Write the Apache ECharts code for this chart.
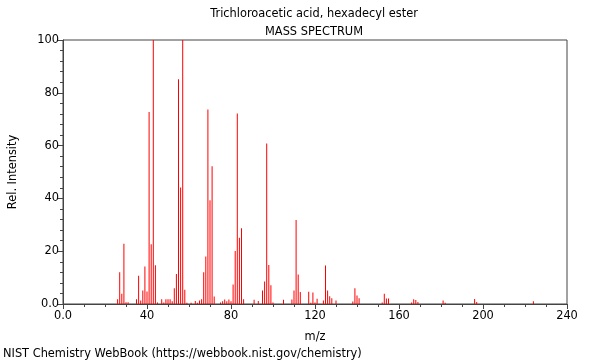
<!DOCTYPE html>
<html>
<head>
<meta charset="utf-8">
<script src="https://cdn.jsdelivr.net/npm/echarts@6/dist/echarts.min.js"></script>
<style>
html,body{margin:0;padding:0;background:#fff;}
#c{width:600px;height:360px;}
</style>
</head>
<body>
<div id="c"></div>
<script>
var titleText = "Trichloroacetic acid, hexadecyl ester";
var subtitleText = "MASS SPECTRUM";
var footerText = "NIST Chemistry WebBook (https://webbook.nist.gov/chemistry)";
var xName = "m/z";
var yName = "Rel. Intensity";

var mz = [26,27,28,29,30,31,35,36,37,38,39,40,41,42,43,44,45,47,48,49,50,51,52,53,54,55,56,57,58,59,61,63,64,65,66,67,68,69,70,71,72,75,76,77,78,79,80,81,82,83,84,85,86,91,93,95,96,97,98,99,100,105,109,110,111,112,113,117,118,119,120,121,124,125,126,127,128,130,138,139,140,141,152,153,154,155,166,167,168,169,181,182,196,197,224];
var intensity = [1.8,12.0,3.9,22.8,0.7,0.7,1.8,10.7,1.3,5.1,14.2,4.7,72.7,22.6,100,14.7,0.6,1.8,0.6,1.8,1.8,1.8,1.0,6.0,11.4,85.1,44.1,100,5.4,0.5,0.5,1.1,0.5,1.3,1.8,12.0,18.0,73.7,39.3,52.2,2.8,0.6,1.0,1.7,1.0,1.7,1.0,7.4,20.1,72.2,25.1,28.7,1.8,1.6,1.1,5.1,8.5,60.8,14.8,7.1,0.6,1.6,1.7,5.1,31.8,11.2,4.5,4.6,0.5,4.4,0.6,2.0,1.3,14.6,5.1,2.9,2.2,1.3,0.9,6.0,3.2,2.2,0.6,3.9,2.1,2.1,0.6,1.8,1.5,0.8,1.3,0.5,1.9,0.8,1.0];

var data = mz.map(function(m,i){return [m,intensity[i]];});
var fontFam = "DejaVu Sans";

var chart = echarts.init(document.getElementById('c'), null, {renderer:'canvas'});
chart.setOption({
  animation:false,
  backgroundColor:'#ffffff',
  textStyle:{fontFamily:fontFam},
  title:[
    {text:titleText, left:314, top:9, textAlign:'center', padding:0,
     textStyle:{fontFamily:fontFam,fontSize:11.4,fontWeight:'normal',color:'#000'}},
    {text:subtitleText, left:314, top:27, textAlign:'center', padding:0,
     textStyle:{fontFamily:fontFam,fontSize:11.4,fontWeight:'normal',color:'#000'}},
    {text:footerText, left:3, top:349, padding:0,
     textStyle:{fontFamily:fontFam,fontSize:11.4,fontWeight:'normal',color:'#000'}}
  ],
  grid:{left:62,right:33,top:40,bottom:56,show:true,borderColor:'#444',borderWidth:1,backgroundColor:'transparent'},
  xAxis:{
    type:'value',min:0,max:240,interval:40,
    name:xName,nameLocation:'middle',nameGap:28,
    nameTextStyle:{fontFamily:fontFam,fontSize:11.4,color:'#000'},
    axisLine:{show:true,onZero:false,lineStyle:{color:'#444',width:1}},
    axisTick:{show:true,length:5,lineStyle:{color:'#444'}},
    minorTick:{show:true,splitNumber:4,length:3,lineStyle:{color:'#444'}},
    axisLabel:{fontFamily:fontFam,fontSize:11.4,color:'#000',margin:7,formatter:function(v){return v===0?'0.0':String(v);}},
    splitLine:{show:false}
  },
  yAxis:{
    type:'value',min:0,max:100,interval:20,
    name:yName,nameLocation:'middle',nameGap:44,nameRotate:90,
    nameTextStyle:{fontFamily:fontFam,fontSize:11.4,color:'#000'},
    axisLine:{show:true,lineStyle:{color:'#444',width:1}},
    axisTick:{show:true,length:5,lineStyle:{color:'#444'}},
    minorTick:{show:true,splitNumber:5,length:3,lineStyle:{color:'#444'}},
    axisLabel:{fontFamily:fontFam,fontSize:11.4,color:'#000',margin:4,formatter:function(v){return v===0?'0.0':String(v);}},
    splitLine:{show:false}
  },
  series:[{
    type:'bar',
    data:data,
    barWidth:1,
    itemStyle:{color:'#ff0000'},
    emphasis:{disabled:true},
    silent:true
  }]
});
</script>
</body>
</html>
